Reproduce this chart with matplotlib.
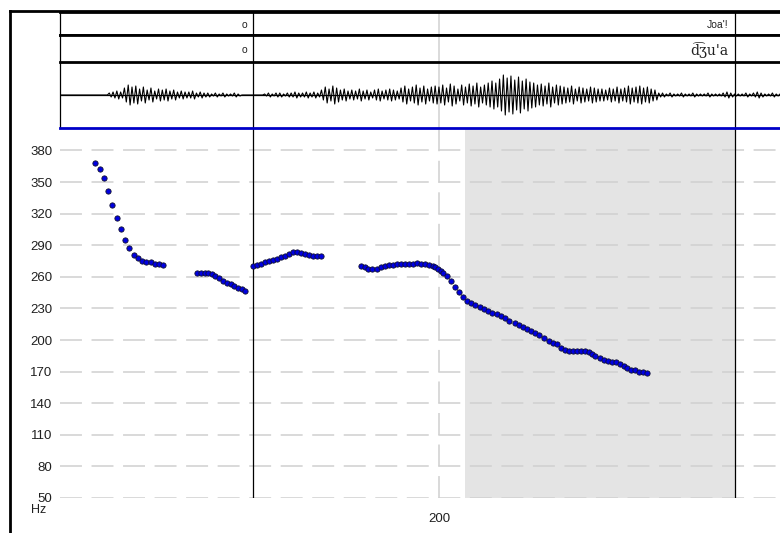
import matplotlib
matplotlib.use('Agg')
import matplotlib.pyplot as plt
from matplotlib.lines import Line2D
import numpy as np

plt.rcParams['font.family'] = ['Liberation Sans', 'DejaVu Sans']
plt.rcParams['lines.scale_dashes'] = False

# --- data (time in ms, pitch in Hz) ---
hz_ticks = [50, 80, 110, 140, 170, 200, 230, 260, 290, 320, 350, 380]
time_ticks = [200]
boundaries = [101.8, 356.2]          # segment boundaries
shade_start, shade_end = 213.7, 356.2
tier1_labels = ['o', "Joa'!"]
tier2_labels = ['o', "d\u0361\u0292u'a"]

seg1_t = [18.5, 21.3, 23.4, 25.5, 27.4, 30.2, 32.3, 34.5, 36.6, 39.2, 41.3,
          43.3, 45.4, 48.0, 50.1, 52.2, 54.5]
seg1_f = [367.9, 362.4, 353.6, 341.3, 328.6, 316.0, 305.2, 295.1, 287.5, 281.1,
          277.7, 275.2, 273.9, 273.9, 272.6, 272.6, 271.4]

seg2_t = [72.5, 74.4, 76.4, 78.3, 80.1, 81.8, 84.1, 85.8, 88.0, 90.1, 91.8,
          93.9, 95.9, 97.8]
seg2_f = [264.1, 264.1, 264.1, 263.5, 262.5, 261.2, 258.7, 256.5, 254.3, 253.1,
          251.4, 249.8, 248.6, 247.0]

seg3_t = [102.0, 104.1, 106.2, 108.3, 110.5, 112.6, 114.7, 116.8, 118.9, 121.0,
          122.8, 124.9, 127.0, 129.1, 131.3, 133.4, 135.5, 137.5]
seg3_f = [269.8, 271.4, 272.6, 273.6, 274.9, 275.8, 277.1, 278.7, 280.2, 282.1,
          283.7, 283.7, 283.0, 281.8, 280.9, 280.2, 280.2, 279.9]

seg4_t = [158.8, 160.8, 162.7, 164.6, 167.1, 169.2, 171.3, 173.5, 175.6, 177.7,
          179.8, 181.9, 184.0, 186.1, 188.2, 190.3, 192.5, 194.6, 196.7, 198.0,
          199.5, 200.9, 202.3, 204.1, 206.2, 208.3, 210.4, 212.8, 214.9, 217.0,
          219.2, 221.6, 223.7, 225.9, 228.0, 230.8, 232.9, 235.0, 237.1, 239.9,
          242.1, 244.2, 246.3, 248.7, 250.8, 252.9, 255.4, 257.9, 260.0, 262.1,
          264.5, 266.6, 268.8, 270.9, 273.0, 275.1, 277.2, 279.0, 280.7, 282.5,
          285.0, 287.1, 289.2, 291.3, 293.4, 295.5, 297.6, 299.4, 301.2, 303.3,
          305.4, 307.5, 309.6]
seg4_f = [270.4, 269.2, 267.9, 267.6, 267.9, 269.2, 270.1, 271.1, 271.1, 271.7,
          271.7, 271.7, 272.3, 272.6, 273.0, 272.6, 272.0, 271.4, 270.7, 269.5,
          267.9, 265.9, 263.5, 260.9, 256.5, 250.8, 245.7, 241.3, 237.2, 235.0,
          233.1, 230.9, 229.3, 227.4, 226.1, 224.9, 223.0, 221.1, 218.5, 216.0,
          214.1, 212.3, 210.9, 208.5, 206.6, 204.7, 202.1, 199.5, 197.6, 195.8,
          192.3, 190.7, 189.8, 189.8, 189.8, 189.8, 189.5, 188.2, 186.9, 185.0,
          182.5, 181.3, 180.0, 179.6, 178.7, 177.4, 175.6, 173.0, 171.7, 171.1,
          169.8, 169.2, 168.6]

# waveform amplitude readings, one every 2 ms from 0 to 380 ms
wave_step = 2
wave_amp = [0, 0, 0, 0, 0, 0, 0, 0, 0, 0, 0, 0, 0,
            2, 3, 4, 3,
            7, 10, 8, 9, 6, 8,
            5, 7, 4, 6,
            5, 6, 4, 5, 3,
            4, 3, 3, 4, 2, 3,
            2, 2, 1, 2, 1, 2, 1, 1, 2, 1,
            0, 0, 0, 0, 0, 0,
            1, 2, 1, 2, 2, 1, 2, 2, 3, 2, 2, 3, 2, 3, 2,
            5, 8, 6, 9, 7, 5, 6,
            4, 5, 4, 6, 4, 5, 3, 5, 6, 4, 5, 6, 5, 4,
            7, 9, 6, 8, 10, 7, 9, 6, 8, 9,
            8, 10, 7, 11, 9, 6, 10, 8, 11, 9, 12, 8, 10, 12,
            14, 12, 16,
            20, 17, 19, 15, 18, 14, 16, 13,
            12, 10, 11, 9, 12, 8, 10, 9,
            8, 7, 9, 6, 8, 7, 6, 8, 7, 6,
            6, 5, 7, 6, 8, 6, 7, 9, 7, 8, 9, 7, 8, 6, 5,
            2, 2, 1, 2, 1, 1, 2, 1, 1, 2, 1, 1, 1, 2, 1, 1, 1, 2, 3, 2, 1,
            1, 1, 2, 1, 2, 3, 2, 1, 1, 2, 1, 1]

W, H = 780, 533
XMAX = 380


def box(x0, y0, x1, y1):
    # pixel box (top-left origin) -> figure fraction rect
    return [x0 / W, 1 - y1 / H, (x1 - x0) / W, (y1 - y0) / H]


fig = plt.figure(figsize=(W / 100, H / 100), dpi=100)
fig.patch.set_facecolor('white')

grid_col = '#d0d0d0'
dash = (15.8, 6.9)

# ---------- pitch panel ----------
ax = fig.add_axes(box(60, 128, 780, 498))
ax.set_xlim(0, XMAX)
ax.set_ylim(50, 401.3)
for s in ax.spines.values():
    s.set_visible(False)
ax.axvspan(shade_start, shade_end, color='#e4e4e4', zorder=0, lw=0)
for v in hz_ticks:
    ax.axhline(v, color=grid_col, lw=1.1, dashes=dash, zorder=1)
for v in time_ticks:
    ax.axvline(v, color=grid_col, lw=1.1, dashes=dash, zorder=1)
for b in boundaries:
    ax.axvline(b, color='black', lw=0.9, zorder=2)

for tt, ff in [(seg1_t, seg1_f), (seg2_t, seg2_f), (seg3_t, seg3_f), (seg4_t, seg4_f)]:
    ax.plot(tt, ff, 'o', ls='none', ms=3.8, mfc='#0000e0', mec='#101030',
            mew=0.6, zorder=3, clip_on=False)

ax.set_yticks(hz_ticks)
ax.set_yticklabels([str(v) for v in hz_ticks])
ax.set_xticks(time_ticks)
ax.set_xticklabels([str(v) for v in time_ticks])
ax.tick_params(axis='y', length=0, pad=5.5, labelsize=9.5, colors='#202020')
ax.tick_params(axis='x', length=0, pad=10.5, labelsize=9.5, colors='#202020')
# unit label sits just under the lowest tick label
ax.text(-7.2, 44.2, 'Hz', ha='right', va='top', fontsize=9, color='#202020',
        transform=ax.transData, clip_on=False)

# ---------- waveform panel ----------
axw = fig.add_axes(box(60, 62, 780, 128))
axw.set_xlim(0, XMAX)
axw.set_ylim(-33, 33)
axw.set_xticks([])
axw.set_yticks([])
for k in ['top', 'right']:
    axw.spines[k].set_visible(False)
axw.spines['left'].set_linewidth(0.9)
axw.spines['bottom'].set_color('#0000c8')
axw.spines['bottom'].set_linewidth(2.0)
axw.axhline(0, color='black', lw=0.9)
amp = np.array(wave_amp, dtype=float)
t = np.arange(len(amp)) * wave_step
wx = np.column_stack([t, t + wave_step / 2]).ravel()
wy = np.column_stack([amp, -amp]).ravel()
axw.plot(wx, wy, color='black', lw=0.8)
axw.axvline(time_ticks[0], color='#d4d4d4', lw=1.2, zorder=0)
for b in boundaries:
    axw.axvline(b, color='black', lw=0.9)

# ---------- label tiers ----------
tiers = [(12, 35, tier1_labels, ['Liberation Sans', 'Liberation Sans'], [7.5, 7.5]),
         (35, 62, tier2_labels, ['Liberation Sans', 'DejaVu Serif'], [7.5, 10])]
for y0, y1, labels, fams, sizes in tiers:
    a = fig.add_axes(box(60, y0, 780, y1))
    a.set_xlim(0, XMAX)
    a.set_ylim(0, 1)
    a.set_xticks([])
    a.set_yticks([])
    a.spines['right'].set_visible(False)
    a.spines['top'].set_linewidth(2.0)
    a.spines['bottom'].set_linewidth(2.0)
    a.spines['left'].set_linewidth(0.9)
    a.axvline(time_ticks[0], color='#d4d4d4', lw=1.2, zorder=0)
    for b, lab, fam, fs in zip(boundaries, labels, fams, sizes):
        a.axvline(b, color='black', lw=0.9)
        a.text(b - 3.2, 0.45, lab, ha='right', va='center', fontsize=fs,
               family=[fam, 'DejaVu Sans'], color='#202020')

# ---------- outer frame ----------
fig.add_artist(Line2D([10 / W, 1], [1 - 11 / H, 1 - 11 / H],
                      transform=fig.transFigure, color='black', lw=2))
fig.add_artist(Line2D([10 / W, 10 / W], [1 - 11 / H, 0],
                      transform=fig.transFigure, color='black', lw=2))

fig.savefig('out.png', dpi=100)
